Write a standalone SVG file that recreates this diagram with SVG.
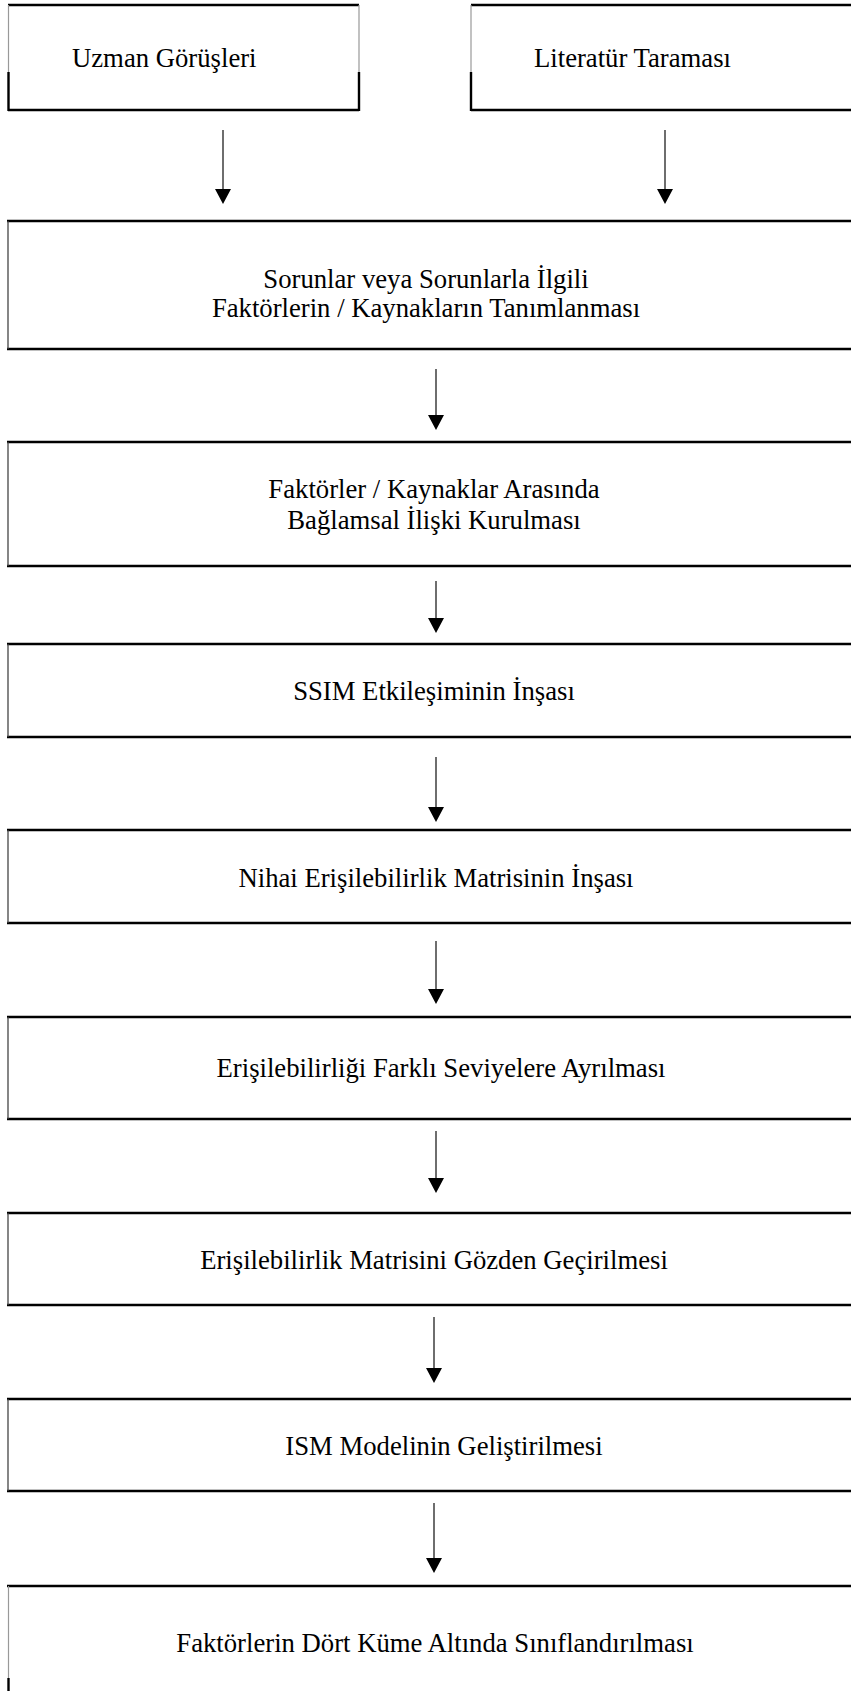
<svg xmlns="http://www.w3.org/2000/svg" width="851" height="1691" viewBox="0 0 851 1691">
  <defs>
    <style>
      .edge { stroke: #000; stroke-width: 2.6; fill: none; }
      .side { stroke: #444; stroke-width: 1.3; fill: none; }
      .side-soft { stroke: #999; stroke-width: 1.2; fill: none; }
      .side-bold { stroke: #000; stroke-width: 2.4; fill: none; }
      .link { stroke: #4a4a4a; stroke-width: 1.6; fill: none; }
      .head { fill: #000; stroke: none; }
      .label { font-family: "Liberation Serif", "Times New Roman", serif; font-size: 26.7px; fill: #000; }
      .mid { text-anchor: middle; }
    </style>
  </defs>
  <rect x="0" y="0" width="851" height="1691" fill="#fff"/>

  <!-- source boxes -->
  <g id="uzman">
    <path class="edge" d="M8,5 H359 M8,110 H359"/>
    <path class="side-soft" d="M8.5,5 V72 M359,5 V72"/>
    <path class="side-bold" d="M8.5,72 V111 M359,72 V111"/>
    <text class="label" x="72" y="67">Uzman Görüşleri</text>
  </g>
  <g id="literatur">
    <path class="edge" d="M471,5 H870 M471,110 H870"/>
    <path class="side-soft" d="M471,5 V72"/>
    <path class="side-bold" d="M471,72 V111"/>
    <text class="label" x="534" y="67">Literatür Taraması</text>
  </g>

  <!-- process steps -->
  <g id="tanimlama">
    <path class="edge" d="M7,221 H870 M7,349 H870"/>
    <path class="side" d="M8,221 V349"/>
    <text class="label mid" x="426" y="288">Sorunlar veya Sorunlarla İlgili</text>
    <text class="label mid" x="426" y="317">Faktörlerin / Kaynakların Tanımlanması</text>
  </g>
  <g id="iliski">
    <path class="edge" d="M7,442 H870 M7,566 H870"/>
    <path class="side" d="M8,442 V566"/>
    <text class="label mid" x="434" y="498">Faktörler / Kaynaklar Arasında</text>
    <text class="label mid" x="434" y="529">Bağlamsal İlişki Kurulması</text>
  </g>
  <g id="ssim">
    <path class="edge" d="M7,644 H870 M7,737 H870"/>
    <path class="side" d="M8,644 V737"/>
    <text class="label mid" x="434" y="700">SSIM Etkileşiminin İnşası</text>
  </g>
  <g id="nihai-matris">
    <path class="edge" d="M7,830 H870 M7,923 H870"/>
    <path class="side" d="M8,830 V923"/>
    <text class="label mid" x="436" y="887">Nihai Erişilebilirlik Matrisinin İnşası</text>
  </g>
  <g id="seviyeler">
    <path class="edge" d="M7,1017 H870 M7,1119 H870"/>
    <path class="side" d="M8,1017 V1119"/>
    <text class="label mid" x="441" y="1077">Erişilebilirliği Farklı Seviyelere Ayrılması</text>
  </g>
  <g id="gozden-gecirme">
    <path class="edge" d="M7,1213 H870 M7,1305 H870"/>
    <path class="side" d="M8,1213 V1305"/>
    <text class="label mid" x="434" y="1269">Erişilebilirlik Matrisini Gözden Geçirilmesi</text>
  </g>
  <g id="ism-model">
    <path class="edge" d="M7,1399 H870 M7,1491 H870"/>
    <path class="side" d="M8,1399 V1491"/>
    <text class="label mid" x="444" y="1455">ISM Modelinin Geliştirilmesi</text>
  </g>
  <g id="siniflandirma">
    <path class="edge" d="M7,1586 H870"/>
    <path class="side-soft" d="M8.5,1586 V1678"/>
    <path class="side-bold" d="M8.5,1678 V1691"/>
    <text class="label mid" x="435" y="1652">Faktörlerin Dört Küme Altında Sınıflandırılması</text>
  </g>

  <!-- connectors -->
  <g id="connectors">
    <path class="link" d="M223,130 V192"/>
    <path class="head" d="M215,189 H231 L223,204 Z"/>
    <path class="link" d="M665,130 V192"/>
    <path class="head" d="M657,189 H673 L665,204 Z"/>
    <path class="link" d="M436,369 V417"/>
    <path class="head" d="M428,415 H444 L436,430 Z"/>
    <path class="link" d="M436,581 V620"/>
    <path class="head" d="M428,618 H444 L436,633 Z"/>
    <path class="link" d="M436,757 V809"/>
    <path class="head" d="M428,807 H444 L436,822 Z"/>
    <path class="link" d="M436,941 V991"/>
    <path class="head" d="M428,989 H444 L436,1004 Z"/>
    <path class="link" d="M436,1131 V1180"/>
    <path class="head" d="M428,1178 H444 L436,1193 Z"/>
    <path class="link" d="M434,1317 V1370"/>
    <path class="head" d="M426,1368 H442 L434,1383 Z"/>
    <path class="link" d="M434,1503 V1560"/>
    <path class="head" d="M426,1558 H442 L434,1573 Z"/>
  </g>
</svg>
